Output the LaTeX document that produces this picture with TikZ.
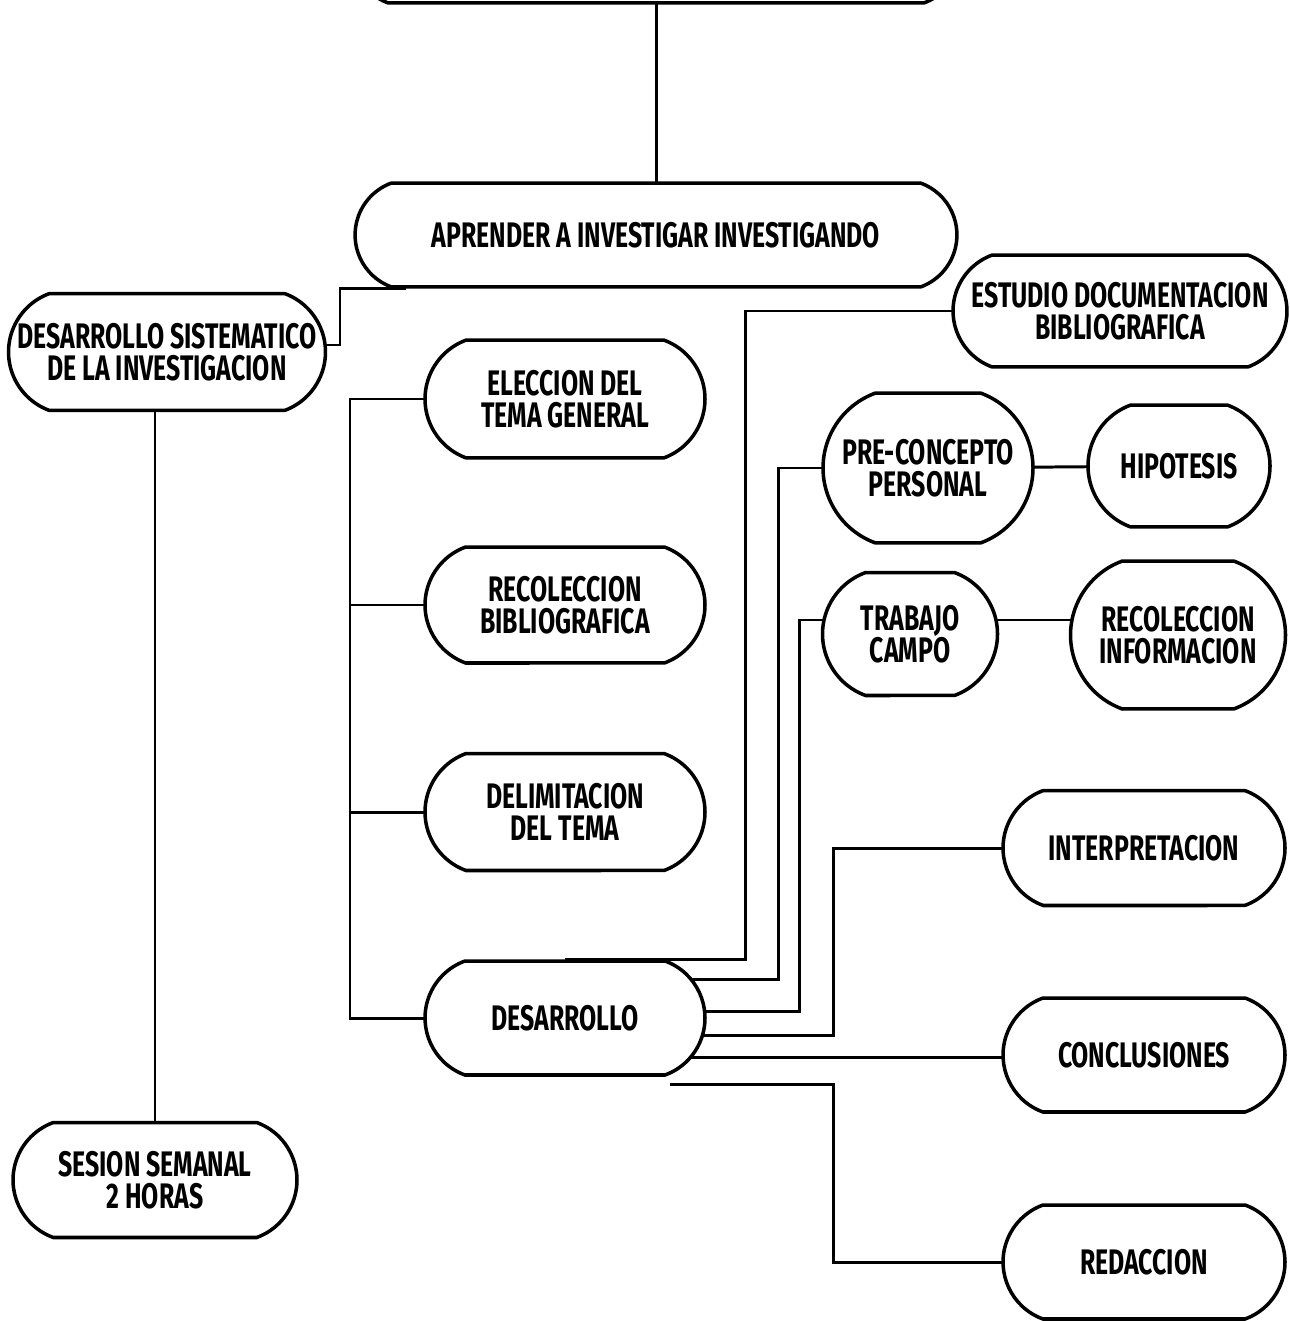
\documentclass[tikz,border=0pt]{standalone}
\usepackage{fontspec}
\setmainfont{Fira Sans}[FakeStretch=0.7]
\usepackage{tikz}
\usetikzlibrary{calc,backgrounds,shapes.misc}
\tikzset{
  caja/.style 2 args={draw, line width=2pt, fill=white, rounded rectangle,
    rounded rectangle arc length=140, align=center, inner sep=0pt,
    minimum width=#1, minimum height=#2,
    font=\bfseries\fontsize{20.2}{18.3}\selectfont},
  linea/.style={line width=1.7pt}
}

\begin{document}
\begin{tikzpicture}[x=0.02cm, y=-0.02cm]
		%%%%% START %%%%%
		\useasboundingbox (0,0) rectangle (1290,1321);
		
		\node[caja={12.2cm}{2.12cm}] (top) at (656,-50) {};
		\node[caja={12.04cm}{2.08cm}] (ap) at (656,235) {APRENDER A INVESTIGAR INVESTIGANDO};
		\node[caja={6.34cm}{2.34cm}] (ds) at (167,352) {DESARROLLO SISTEMATICO\\DE LA INVESTIGACION};
		\node[caja={5.68cm}{2.3cm}] (se) at (155,1180) {SESION SEMANAL\\2 HORAS};
		
		\node[caja={5.6cm}{2.36cm}] (el) at (565,399) {ELECCION DEL\\TEMA GENERAL};
		\node[caja={5.6cm}{2.32cm}] (rb) at (565,605) {RECOLECCION\\BIBLIOGRAFICA};
		\node[caja={5.6cm}{2.34cm}] (dt) at (565,812) {DELIMITACION\\DEL TEMA};
		\node[caja={5.6cm}{2.28cm}] (de) at (565,1018) {DESARROLLO};
		
		\node[caja={6.68cm}{2.24cm}] (es) at (1120,311) {ESTUDIO DOCUMENTACION\\BIBLIOGRAFICA};
		\node[caja={4.2cm}{3cm}] (pc) at (928,468) {PRE-CONCEPTO\\PERSONAL};
		\node[caja={3.64cm}{2.44cm}] (hi) at (1179,466) {HIPOTESIS};
		\node[caja={3.5cm}{2.46cm}] (tc) at (910,634) {TRABAJO\\CAMPO};
		\node[caja={4.3cm}{2.96cm}] (rc) at (1178,635) {RECOLECCION\\INFORMACION};
		\node[caja={5.64cm}{2.3cm}] (ip) at (1144,848) {INTERPRETACION};
		\node[caja={5.64cm}{2.28cm}] (co) at (1144,1055) {CONCLUSIONES};
		\node[caja={5.64cm}{2.28cm}] (rd) at (1144,1262) {REDACCION};
		
		\begin{scope}[on background layer]
		\draw[linea] (top.center) -- (ap.center);
		\draw[linea] ($(ds.center)+(0,-7)$) -| ($(ap.south)+(-316,0)$) -- ($(ap.south)+(-250,0)$);
		\draw[linea] (se.center) -- (se.center |- ds.center);
		
		\draw[linea] (el.center) -- ++(-215,0) |- (de.center);
		\draw[linea] (rb.center) -- ++(-215,0);
		\draw[linea] (dt.center) -- ++(-215,0);
		
		\draw[linea] (de.north) -- ++(180,0) |- (es.center);
		\draw[linea] ($(de.center)+(0,-39)$) -| ($(pc.center)+(-150,0)$) -- (pc.center);
		\draw[linea] ($(de.center)+(0,-7)$) -| ($(tc.center)+(-111,-14)$) -- ($(tc.center)+(0,-14)$);
		\draw[linea] ($(de.center)+(0,17)$) -| ($(ip.center)+(-311,0)$) -- (ip.center);
		\draw[linea] ($(de.center)+(0,39)$) -- ($(co.center)+(0,2)$);
		\draw[linea] ($(de.south)+(105,8)$) -- ++(163,0) |- (rd.center);
		
		\draw[linea] (pc.center) -- (hi.center);
		\draw[linea] ($(tc.center)+(0,-14)$) -- ($(rc.center)+(0,-15)$);
		\end{scope}
		%%%%% END %%%%%
\end{tikzpicture}
\end{document}
